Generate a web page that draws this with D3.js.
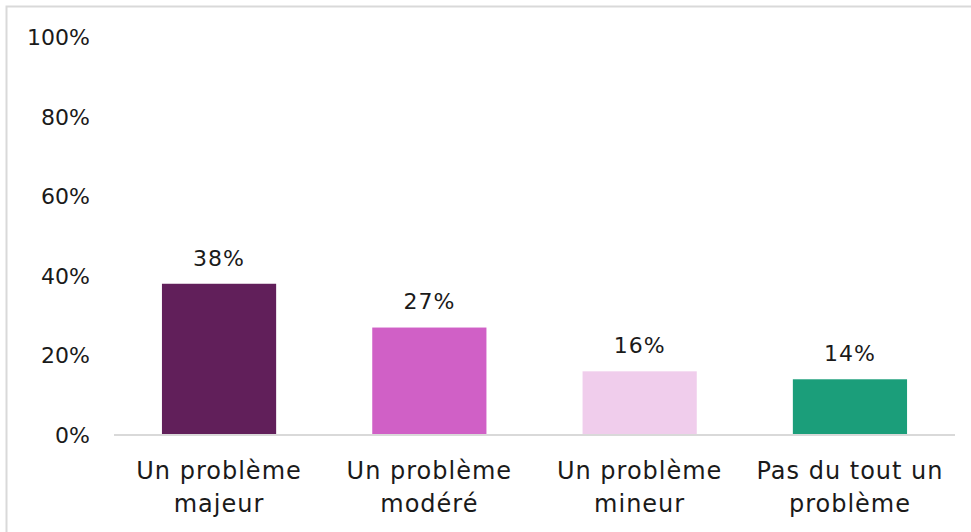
<!DOCTYPE html>
<html>
<head>
<meta charset="utf-8">
<script src="https://cdn.jsdelivr.net/npm/d3@7"></script>
<style>
  body { margin: 0; background: #fff; }
  svg { display: block; font-family: "Century Gothic", "DejaVu Sans", sans-serif; }
</style>
</head>
<body>
<svg id="chart" width="971" height="532"></svg>
<script>
var categories = [ ['Un problème', 'majeur'], ['Un problème', 'modéré'], ['Un problème', 'mineur'], ['Pas du tout un', 'problème'] ],
    values = [ 38, 27, 16, 14 ],
    colors = [ '#611f5a', '#d060c6', '#f0cdec', '#1b9e7a' ],
    ticks = [ 0, 20, 40, 60, 80, 100 ];

var svg = d3.select( '#chart' ),
    plotLeft = 114, plotRight = 955, plotTop = 37, plotBottom = 435;

// outer frame (top and left edges show in the picture)
svg.append( 'path' )
  .attr( 'd', 'M6.5,540 V6.5 H980' )
  .attr( 'fill', 'none' )
  .attr( 'stroke', '#d9d9d9' )
  .attr( 'stroke-width', 2 );

var x = d3.scaleBand()
  .domain( d3.range( values.length ) )
  .range( [ plotLeft, plotRight ] )
  .paddingInner( 0.457 )
  .paddingOuter( 0.228 );

var y = d3.scaleLinear()
  .domain( [ 0, 100 ] )
  .range( [ plotBottom, plotTop ] );

// y tick labels
svg.append( 'g' )
  .selectAll( 'text' )
  .data( ticks ).enter()
  .append( 'text' )
    .attr( 'x', 90 )
    .attr( 'y', function(d) { return y(d); } )
    .attr( 'dy', '0.36em' )
    .attr( 'text-anchor', 'end' )
    .attr( 'font-size', 22 )
    .attr( 'fill', '#1a1a1a' )
    .text( function(d) { return d + '%'; } );

// bars
svg.append( 'g' )
  .selectAll( 'rect' )
  .data( values ).enter()
  .append( 'rect' )
    .attr( 'x', function(d, i) { return x(i); } )
    .attr( 'y', function(d) { return y(d); } )
    .attr( 'width', x.bandwidth() )
    .attr( 'height', function(d) { return y(0) - y(d); } )
    .attr( 'fill', function(d, i) { return colors[i]; } );

// baseline
svg.append( 'line' )
  .attr( 'x1', plotLeft ).attr( 'x2', plotRight )
  .attr( 'y1', plotBottom ).attr( 'y2', plotBottom )
  .attr( 'stroke', '#d9d9d9' )
  .attr( 'stroke-width', 2 );

// value labels
svg.append( 'g' )
  .selectAll( 'text' )
  .data( values ).enter()
  .append( 'text' )
    .attr( 'x', function(d, i) { return x(i) + x.bandwidth() / 2; } )
    .attr( 'y', function(d) { return y(d) - 26; } )
    .attr( 'dy', '0.36em' )
    .attr( 'text-anchor', 'middle' )
    .attr( 'font-size', 22 )
    .attr( 'letter-spacing', 1 )
    .attr( 'fill', '#1a1a1a' )
    .text( function(d) { return d + '%'; } );

// category labels, two lines each
var cat = svg.append( 'g' )
  .selectAll( 'text' )
  .data( categories ).enter()
  .append( 'text' )
    .attr( 'x', function(d, i) { return x(i) + x.bandwidth() / 2; } )
    .attr( 'y', 470 )
    .attr( 'text-anchor', 'middle' )
    .attr( 'font-size', 24 )
    .attr( 'letter-spacing', 1 )
    .attr( 'fill', '#1a1a1a' );

cat.selectAll( 'tspan' )
  .data( function(d) { return d; } ).enter()
  .append( 'tspan' )
    .attr( 'x', function() { return d3.select( this.parentNode ).attr( 'x' ); } )
    .attr( 'dy', function(d, j) { return j === 0 ? '0.36em' : '33px'; } )
    .text( function(d) { return d; } );
</script>
</body>
</html>
